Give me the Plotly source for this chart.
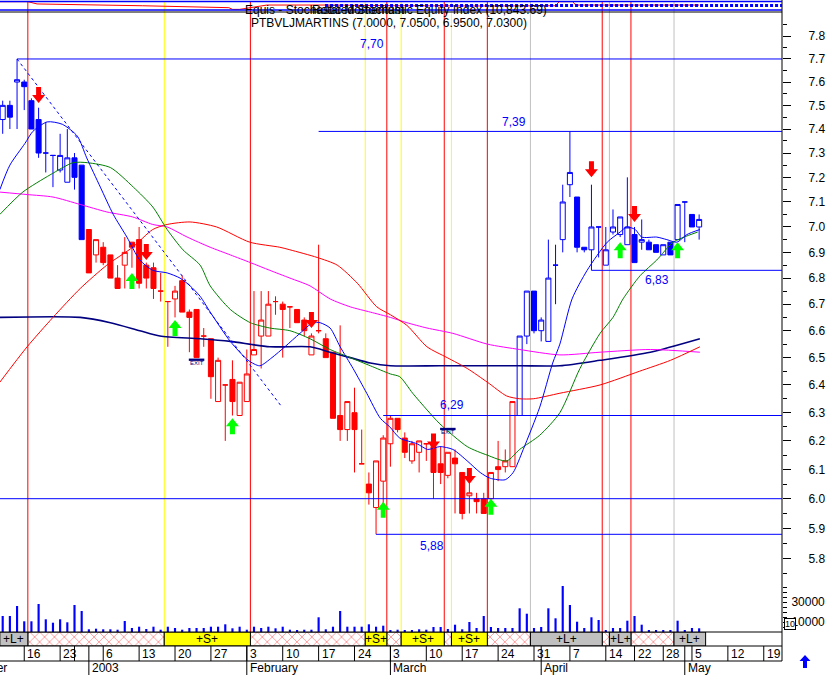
import math
import plotly.graph_objects as go

FONT = "Arial, Liberation Sans, sans-serif"

# ------------------------------------------------------------------ data
# trading-day index: 0 = 11 Dec 2002 ... 97 = 6 May 2003
day_index = list(range(98))
opens = [7.44, 7.50, 7.60, 7.60, 7.52, 7.44, 7.30, 7.29, 7.23, 7.18,
         7.28, 7.25, 6.99, 6.89, 6.92, 6.89, 6.80, 6.85, 6.94, 6.95,
         6.85, 6.84, 6.75, 6.71, 6.72, 6.79, 6.67, 6.68, 6.58, 6.57,
         6.34, 6.40, 6.42, 6.29, 6.34, 6.51, 6.58, 6.58, 6.71, 6.70,
         6.69, 6.68, 6.64, 6.51, 6.60, 6.57, 6.52, 6.29, 6.24, 6.30,
         6.12, 6.05, 5.97, 6.06, 6.19, 6.28, 6.21, 6.13, 6.16, 6.19,
         6.18, 6.12, 6.08, 6.14, 6.09, 6.01, 6.00, 6.00, 6.00, 6.11,
         6.11, 6.11, 6.29, 6.58, 6.75, 6.60, 6.56, 6.85, 6.95, 7.17,
         7.12, 6.92, 6.91, 7.00, 6.85, 6.98, 6.97, 6.93, 6.97, 6.94,
         6.94, 6.93, 6.89, 6.94, 6.95, 7.10, 7.05, 7.00]
highs = [7.52, 7.52, 7.70, 7.61, 7.53, 7.49, 7.43, 7.29, 7.38, 7.40,
         7.30, 7.25, 6.99, 6.95, 6.94, 6.89, 6.85, 6.96, 6.94, 7.00,
         6.86, 6.86, 6.82, 6.71, 6.77, 6.81, 6.68, 6.68, 6.61, 6.57,
         6.50, 6.40, 6.49, 6.41, 6.53, 6.75, 6.75, 6.75, 6.73, 6.71,
         6.69, 6.68, 6.65, 6.59, 6.93, 6.59, 6.52, 6.62, 6.34, 6.39,
         6.24, 6.09, 6.13, 6.22, 6.29, 6.28, 6.23, 6.20, 6.20, 6.19,
         6.19, 6.18, 6.16, 6.17, 6.09, 6.10, 6.02, 6.02, 6.09, 6.20,
         6.17, 6.34, 6.58, 6.75, 6.75, 6.65, 6.95, 6.93, 7.17, 7.39,
         7.12, 6.92, 7.17, 7.00, 7.00, 7.07, 7.04, 7.20, 7.00, 7.03,
         6.95, 6.93, 6.93, 6.94, 7.09, 7.10, 7.05, 7.05]
lows = [7.38, 7.40, 7.40, 7.48, 7.40, 7.28, 7.22, 7.16, 7.22, 7.18,
        7.15, 6.95, 6.82, 6.86, 6.85, 6.80, 6.76, 6.76, 6.84, 6.76,
        6.76, 6.72, 6.71, 6.54, 6.65, 6.67, 6.52, 6.50, 6.54, 6.35,
        6.34, 6.20, 6.29, 6.29, 6.34, 6.51, 6.46, 6.58, 6.66, 6.50,
        6.61, 6.63, 6.58, 6.51, 6.59, 6.50, 6.28, 6.20, 6.20, 6.09,
        6.12, 5.98, 5.88, 5.97, 6.11, 6.23, 6.14, 6.12, 6.09, 6.13,
        6.00, 6.05, 6.07, 5.95, 5.93, 5.95, 5.95, 5.95, 5.97, 6.06,
        6.09, 6.11, 6.29, 6.55, 6.59, 6.56, 6.56, 6.70, 6.90, 7.12,
        6.90, 6.90, 6.83, 6.88, 6.85, 6.97, 6.96, 6.93, 6.86, 6.91,
        6.91, 6.90, 6.89, 6.89, 6.95, 6.94, 7.00, 6.95]
closes = [7.50, 7.45, 7.61, 7.58, 7.40, 7.30, 7.30, 7.29, 7.29, 7.28,
          7.20, 6.95, 6.82, 6.95, 6.86, 6.80, 6.76, 6.90, 6.92, 6.78,
          6.80, 6.76, 6.75, 6.71, 6.75, 6.67, 6.65, 6.50, 6.58, 6.43,
          6.49, 6.40, 6.34, 6.41, 6.44, 6.53, 6.64, 6.70, 6.71, 6.68,
          6.69, 6.63, 6.60, 6.58, 6.60, 6.50, 6.28, 6.24, 6.34, 6.24,
          6.12, 6.02, 6.13, 6.21, 6.28, 6.24, 6.16, 6.19, 6.20, 6.19,
          6.09, 6.09, 6.16, 6.12, 5.95, 6.02, 5.99, 5.95, 6.09, 6.10,
          6.13, 6.34, 6.58, 6.75, 6.60, 6.64, 6.80, 6.85, 7.10, 7.22,
          6.92, 6.91, 7.00, 7.00, 6.91, 7.00, 7.04, 7.00, 6.86, 6.95,
          6.91, 6.90, 6.93, 6.89, 7.09, 7.10, 7.00, 7.03]
volumes = [16000, 16000, 26000, 10700, 10700, 28000, 12700, 9300, 12700, 9700,
           27000, 21000, 2700, 3300, 2700, 2700, 2300, 11000, 4000, 5300,
           3000, 5300, 2300, 5300, 4000, 2300, 4000, 4000, 4000, 5300,
           5300, 7700, 3700, 5300, 2300, 5300, 4000, 5300, 3700, 5300,
           2300, 2000, 2300, 2300, 14700, 2700, 5300, 21000, 5300, 5300,
           5300, 7700, 5300, 6300, 1700, 2300, 2000, 2000, 2700, 2300,
           5000, 5000, 3000, 7300, 2700, 10000, 4000, 16000, 5000, 4000,
           4000, 4000, 23700, 18300, 4000, 5000, 23700, 13700, 46000, 27000,
           10300, 4000, 14700, 12000, 1700, 4000, 4000, 11300, 16000, 7300,
           1700, 1700, 1700, 1500, 11300, 1700, 4000, 3700]
# candle colouring (trend state): first index, last index, colour
trend_segments = [(0, 11, "#0000ff"), (12, 71, "#ff0000"), (72, 97, "#0000ff")]

# moving averages (read at day index positions)
ma_fast_x = [-0.4, 1.0, 3.1, 4.2, 6.2, 8.3, 10.4, 11.7, 13.6, 15.4, 17.3, 19.1, 20.9, 22.9, 24.7,
             26.1, 27.5, 28.9, 31.7, 34.2, 35.8, 37.5, 39.3, 41.4, 43.2, 44.2, 45.6, 47.0, 48.8,
             50.7, 52.6, 53.9, 55.3, 57.7, 59.2, 60.9, 62.7, 64.7, 66.5, 67.9, 70.0, 71.1, 72.5,
             74.8, 76.6, 77.6, 79.3, 81.4, 84.2, 86.0, 86.9, 88.1, 89.0, 91.1, 92.5, 93.9, 95.3, 97.1]
ma_fast = [7.15, 7.25, 7.34, 7.39, 7.43, 7.42, 7.37, 7.28, 7.16, 7.05, 6.96, 6.87, 6.83, 6.82, 6.80,
           6.77, 6.73, 6.67, 6.56, 6.49, 6.47, 6.50, 6.54, 6.59, 6.63, 6.63, 6.61, 6.54, 6.46,
           6.37, 6.28, 6.25, 6.21, 6.19, 6.17, 6.18, 6.17, 6.13, 6.09, 6.07, 6.065, 6.09, 6.17,
           6.32, 6.48, 6.55, 6.72, 6.83, 6.94, 6.98, 7.00, 6.99, 6.96, 6.96, 6.95, 6.94, 6.97, 6.99]
ma_mid_x = [-0.4, 2.8, 6.6, 9.8, 11.8, 15.0, 18.2, 20.9, 22.9, 25.1, 27.5, 28.9, 31.7, 34.5, 37.2,
            40.0, 42.8, 45.6, 48.4, 51.2, 54.0, 55.3, 57.1, 59.1, 60.9, 64.7, 67.5, 70.2, 72.0,
            74.8, 77.6, 80.4, 83.2, 85.0, 86.4, 88.8, 91.1, 93.4, 96.8]
ma_mid = [7.05, 7.14, 7.21, 7.26, 7.26, 7.24, 7.16, 7.08, 6.99, 6.91, 6.85, 6.77, 6.68, 6.63, 6.61,
          6.60, 6.57, 6.53, 6.50, 6.47, 6.44, 6.43, 6.37, 6.31, 6.26, 6.18, 6.15, 6.13, 6.17,
          6.22, 6.30, 6.46, 6.59, 6.65, 6.72, 6.81, 6.87, 6.94, 6.98]
ma_slow_x = [-0.4, 3.4, 7.0, 10.8, 14.5, 18.1, 20.9, 22.9, 26.1, 29.8, 34.4, 38.6, 40.0, 43.8, 46.6,
             49.4, 52.1, 54.0, 56.3, 59.1, 61.9, 64.7, 67.5, 70.2, 72.0, 73.9, 77.6, 83.2, 88.7,
             93.0, 97.1]
ma_slow = [6.41, 6.54, 6.65, 6.76, 6.85, 6.92, 6.99, 7.01, 7.02, 7.00, 6.94, 6.92, 6.91, 6.88, 6.85,
           6.78, 6.69, 6.66, 6.62, 6.54, 6.50, 6.46, 6.41, 6.36, 6.35, 6.35, 6.37, 6.40, 6.45,
           6.49, 6.54]
ma_long_x = [-0.4, 3.4, 7.0, 10.8, 14.5, 18.1, 20.9, 22.9, 25.7, 28.9, 31.7, 34.5, 37.2, 40.0, 42.8,
             45.6, 48.4, 51.2, 54.0, 56.3, 59.1, 62.7, 67.5, 72.0, 77.6, 83.2, 90.2, 97.1]
ma_long = [7.14, 7.13, 7.12, 7.09, 7.06, 7.04, 7.01, 7.00, 6.96, 6.92, 6.89, 6.86, 6.83, 6.80, 6.77,
           6.72, 6.69, 6.67, 6.65, 6.63, 6.61, 6.59, 6.55, 6.53, 6.51, 6.52, 6.53, 6.52]
ma_vlong_x = [-0.4, 10.8, 15.0, 19.1, 21.9, 27.5, 31.7, 37.2, 42.8, 45.6, 48.4, 51.2, 54.0, 60.9,
              66.5, 72.0, 77.6, 83.2, 90.2, 97.1]
ma_vlong = [6.65, 6.65, 6.63, 6.60, 6.58, 6.57, 6.56, 6.54, 6.54, 6.52, 6.50, 6.48, 6.47, 6.47,
            6.47, 6.47, 6.47, 6.49, 6.52, 6.57]

# trend line (from the 7.70 top)
trend_x = [2, 38.9]
trend_y = [7.70, 6.32]

# horizontal support / resistance levels
level_price = [7.70, 7.39, 6.83, 6.29, 6.00, 5.88]
level_from = [2, 44, 82, 53, -0.4, 52]
level_text = ["7,70", "7,39", "6,83", "6,29", "", "5,88"]
level_label_at = [51.5, 71.2, 91.1, 62.6, None, 59.8]

# signal arrows
sell_idx = [5, 20, 43, 60, 65, 82, 88]
sell_price = [7.51, 6.87, 6.61, 6.17, 6.05, 7.20, 7.02]
buy_idx = [18, 24, 32, 53, 68, 86, 94]
buy_price = [6.82, 6.64, 6.28, 5.99, 6.00, 6.94, 6.94]
exit_idx = [27, 62]
exit_price = [6.49, 6.24]

# expert band: start, end, state (L = long, S = short, X = out)
band_start = [-0.4, 3.5, 22.5, 34.5, 50.5, 53.5, 55.5, 61.5, 62.5, 67.5, 73.5, 83.5, 84.5, 87.5, 93.5]
band_end = [3.5, 22.5, 34.5, 50.5, 53.5, 55.5, 61.5, 62.5, 67.5, 73.5, 83.5, 84.5, 87.5, 93.5, 97.9]
band_state = ["L", "X", "S", "X", "S", "X", "S", "X", "S", "X", "L", "X", "L", "X", "L"]

# top indicator strip
ind_x = [-0.4, 3.5, 4.8, 9.0, 19.5, 31.5, 32.0, 33.0, 36.8, 46.0, 55.0, 68.0, 77.0, 77.5, 79.4, 79.8, 97.0]
ind_y = [86, 86, 67, 61, 52, 36, 22, 22, 58, 58, 52, 50, 52, 86, 86, 58, 58]
ind_levels = [88, 17]
ind_signal_level = 54
ind_signal_from = 44.9

# axes labels
price_ticks = [5.8, 5.9, 6.0, 6.1, 6.2, 6.3, 6.4, 6.5, 6.6, 6.7, 6.8, 6.9, 7.0, 7.1, 7.2, 7.3,
               7.4, 7.5, 7.6, 7.7, 7.8]
vol_ticks = [5000, 10000, 15000, 20000, 25000, 30000, 35000, 40000, 45000]
vol_tick_text = ["", "10000", "", "", "", "30000", "", "", ""]
day_tick_idx = [3, 8, 10, 14, 19, 24, 29, 34, 39, 44, 49, 54, 59, 64, 69, 74, 79, 84, 88, 92, 96, 101, 106]
day_tick_text = ["16", "23", "", "6", "13", "20", "27", "3", "10", "17", "24", "3", "10", "17", "24",
                 "31", "7", "14", "22", "28", "5", "12", "19"]
month_idx = [12, 34, 54, 75, 95]
month_text = ["2003", "February", "March", "April", "May"]

# ------------------------------------------------------------------ layout helpers
W, H = 829, 675
ML, MR, MT, MB = 0, 47, 0, 29
PH = H - MT - MB          # 646
PW = W - ML - MR          # 782
X_RANGE = [-0.376, 108.54]
PRICE_RANGE = [math.log10(5.563), math.log10(7.908)]


def py(pix):
    return (PH - pix) / PH


def pxp(pix):
    return pix / PW


BLUE, RED, GREEN, MAG, NAVY = "#0000ff", "#ff0000", "#008000", "#ff00ff", "#000080"
YEL, GRAY = "#ffff00", "#c0c0c0"

fig = go.Figure()

# candles
for start, end, colour in trend_segments:
    sl = slice(start, end + 1)
    fig.add_trace(go.Candlestick(
        x=day_index[sl], open=opens[sl], high=highs[sl], low=lows[sl], close=closes[sl],
        increasing=dict(line=dict(color=colour, width=1), fillcolor="white"),
        decreasing=dict(line=dict(color=colour, width=1), fillcolor=colour),
        whiskerwidth=0, showlegend=False, hoverinfo="skip", xaxis="x", yaxis="y"))

# moving averages
for xs, ys, col, w in [(ma_vlong_x, ma_vlong, NAVY, 1.6), (ma_long_x, ma_long, MAG, 1),
                       (ma_slow_x, ma_slow, RED, 1), (ma_mid_x, ma_mid, GREEN, 1),
                       (ma_fast_x, ma_fast, BLUE, 1)]:
    fig.add_trace(go.Scatter(x=xs, y=ys, mode="lines", line=dict(color=col, width=w, shape="spline", smoothing=0.7),
                             hoverinfo="skip", showlegend=False, xaxis="x", yaxis="y"))

# volume
fig.add_trace(go.Bar(x=day_index, y=volumes, width=0.3, marker=dict(color=BLUE, line=dict(width=0)),
                     hoverinfo="skip", showlegend=False, xaxis="x", yaxis="y2"))

# expert band
for state in ["X", "S", "L"]:
    xs = [(s + e) / 2 for s, e, st in zip(band_start, band_end, band_state) if st == state]
    ws = [e - s for s, e, st in zip(band_start, band_end, band_state) if st == state]
    if state == "X":
        marker = dict(color="white", line=dict(color="black", width=1),
                      pattern=dict(shape="x", fgcolor=RED, bgcolor="white", size=7, solidity=0.2))
    else:
        marker = dict(color=YEL if state == "S" else GRAY, line=dict(color="black", width=1))
    fig.add_trace(go.Bar(x=xs, y=[1] * len(xs), width=ws, base=0, marker=marker,
                         hoverinfo="skip", showlegend=False, xaxis="x", yaxis="y3"))

# top indicator
fig.add_trace(go.Scatter(x=ind_x, y=ind_y, mode="lines", line=dict(color=RED, width=1),
                         hoverinfo="skip", showlegend=False, xaxis="x", yaxis="y4"))

shapes = []
annotations = []


def hline(ypix, colour, width=1, x0=0, x1=1):
    shapes.append(dict(type="line", xref="paper", yref="paper", x0=x0, x1=x1, y0=py(ypix), y1=py(ypix),
                       line=dict(color=colour, width=width)))


# frame
hline(12, "black")
hline(632, "black")
hline(646, "black")
hline(661, "black")
shapes.append(dict(type="line", xref="paper", yref="paper", x0=1, x1=1, y0=py(661), y1=1,
                   line=dict(color="black", width=1)))

# signal vertical lines
sig_col = {"X": RED, "S": YEL, "L": GRAY}
for s, st in zip(band_start[1:], band_state[1:]):
    shapes.append(dict(type="line", xref="x", yref="paper", x0=s, x1=s, y0=py(632), y1=py(2),
                       line=dict(color=sig_col[st], width=1), layer="below"))

# levels
for lp, lf in zip(level_price, level_from):
    shapes.append(dict(type="line", xref="x", yref="y", x0=lf, x1=X_RANGE[1], y0=lp, y1=lp,
                       line=dict(color=BLUE, width=1)))
level_shift = {"7,70": 15, "7,39": 9, "6,83": -10, "6,29": 11, "5,88": -12}
for lp, lt, la in zip(level_price, level_text, level_label_at):
    if la is None:
        continue
    annotations.append(dict(x=la, y=math.log10(lp), xref="x", yref="y", text=lt, showarrow=False,
                            yshift=level_shift[lt], font=dict(color=BLUE, size=12, family=FONT)))

# trend line
shapes.append(dict(type="line", xref="x", yref="y", x0=trend_x[0], x1=trend_x[1], y0=trend_y[0], y1=trend_y[1],
                   line=dict(color=BLUE, width=1, dash="dot")))

# arrows
DOWN = "M 0 0 L 6.5 8 L 2.5 8 L 2.5 16 L -2.5 16 L -2.5 8 L -6.5 8 Z"
UP = "M 0 0 L 6.5 -8 L 2.5 -8 L 2.5 -16 L -2.5 -16 L -2.5 -8 L -6.5 -8 Z"
for i, p in zip(sell_idx, sell_price):
    shapes.append(dict(type="path", xref="x", yref="y", xsizemode="pixel", ysizemode="pixel",
                       xanchor=i, yanchor=p, path=DOWN, fillcolor=RED, line=dict(width=0)))
for i, p in zip(buy_idx, buy_price):
    shapes.append(dict(type="path", xref="x", yref="y", xsizemode="pixel", ysizemode="pixel",
                       xanchor=i, yanchor=p, path=UP, fillcolor="#00ff00", line=dict(width=0)))
for i, p in zip(exit_idx, exit_price):
    shapes.append(dict(type="rect", xref="x", yref="y", xsizemode="pixel", ysizemode="pixel",
                       xanchor=i, yanchor=p, x0=-7, x1=7, y0=1, y1=-6, fillcolor="white",
                       line=dict(color=NAVY, width=1.5)))
    shapes.append(dict(type="line", xref="x", yref="y", xsizemode="pixel", ysizemode="pixel",
                       xanchor=i, yanchor=p, x0=0, x1=0, y0=-6, y1=-16, line=dict(color=NAVY, width=2)))
    annotations.append(dict(x=i, y=math.log10(p), xref="x", yref="y", text="EXIT", showarrow=False,
                            yshift=-2.5, font=dict(color=NAVY, size=6, family=FONT)))

# top strip lines
for lv in ind_levels:
    shapes.append(dict(type="line", xref="paper", yref="y4", x0=0, x1=1, y0=lv, y1=lv,
                       line=dict(color=BLUE, width=1.5)))
shapes.append(dict(type="line", xref="x", yref="y4", x0=ind_signal_from, x1=X_RANGE[1],
                   y0=ind_signal_level, y1=ind_signal_level, line=dict(color=BLUE, width=3, dash="3px,2px")))

# band labels
for s, e, st in zip(band_start, band_end, band_state):
    if st in ("S", "L"):
        annotations.append(dict(x=(s + e) / 2, y=py(639), xref="x", yref="paper", text="+%s+" % st,
                                showarrow=False, yanchor="middle", font=dict(size=12, family=FONT, color="black")))

# date rows
for i, t in zip(day_tick_idx, day_tick_text):
    shapes.append(dict(type="line", xref="x", yref="paper", x0=i, x1=i, y0=py(646), y1=py(661),
                       line=dict(color="black", width=1)))
    if t:
        annotations.append(dict(x=i, y=py(654), xref="x", yref="paper", text=t, showarrow=False,
                                xanchor="left", yanchor="middle", xshift=1,
                                font=dict(size=12, family=FONT, color="black")))
for i, t in zip(month_idx, month_text):
    shapes.append(dict(type="line", xref="x", yref="paper", x0=i, x1=i, y0=py(646), y1=py(675),
                       line=dict(color="black", width=1)))
    annotations.append(dict(x=i, y=py(668), xref="x", yref="paper", text=t, showarrow=False,
                            xanchor="left", yanchor="middle", xshift=1,
                            font=dict(size=12, family=FONT, color="black")))
annotations.append(dict(x=0, y=py(668), xref="paper", yref="paper", text="December", showarrow=False,
                        xanchor="right", yanchor="middle", xshift=9, font=dict(size=12, family=FONT)))

# titles
annotations.append(dict(x=pxp(243), y=py(10), xref="paper", yref="paper", text="Equis - Stochastic Momentum",
                        showarrow=False, xanchor="left", yanchor="middle", font=dict(size=12, family=FONT)))
annotations.append(dict(x=pxp(310), y=py(10), xref="paper", yref="paper",
                        text="Rotated Stochastic Equity Index (10,843.69)",
                        showarrow=False, xanchor="left", yanchor="middle", font=dict(size=12, family=FONT)))
annotations.append(dict(x=pxp(249), y=py(23), xref="paper", yref="paper",
                        text="PTBVLJMARTINS (7.0000, 7.0500, 6.9500, 7.0300)",
                        showarrow=False, xanchor="left", yanchor="middle", font=dict(size=12, family=FONT)))

# small marker box near volume scale and scroll arrow
annotations.append(dict(x=1, y=py(624), xref="paper", yref="paper", text="10", showarrow=False,
                        xanchor="left", yanchor="middle", xshift=2, bgcolor="white", bordercolor="black",
                        borderwidth=1, borderpad=0, font=dict(size=9, family=FONT)))
shapes.append(dict(type="path", xref="paper", yref="paper", xsizemode="pixel", ysizemode="pixel",
                   xanchor=1, yanchor=py(655),
                   path="M 23 0 L 28.5 -6 L 25 -6 L 25 -13 L 21 -13 L 21 -6 L 17.5 -6 Z",
                   fillcolor=BLUE, line=dict(width=0)))

fig.update_layout(
    width=W, height=H, margin=dict(l=ML, r=MR, t=MT, b=MB, pad=0),
    paper_bgcolor="white", plot_bgcolor="white", showlegend=False,
    barmode="overlay", boxgap=0, boxgroupgap=0.3,
    font=dict(family=FONT, size=12, color="black"),
    xaxis=dict(domain=[0, 1], range=X_RANGE, showticklabels=False, ticks="", showgrid=False,
               zeroline=False, showline=False, rangeslider=dict(visible=False), anchor="y3"),
    yaxis=dict(domain=[py(632), py(12)], type="log", range=PRICE_RANGE, side="right", anchor="x",
               showgrid=False, zeroline=False, showline=False, ticks="outside", ticklen=8,
               tickcolor="black", tickvals=price_ticks, ticktext=["%.1f" % v for v in price_ticks],
               ticklabelstandoff=15, tickfont=dict(size=12, family=FONT),
               minor=dict(tickvals=[5.75] + [round(v + 0.05, 2) for v in price_ticks], ticks="outside",
                          ticklen=4, tickcolor="black", showgrid=False)),
    yaxis2=dict(overlaying="y", side="right", anchor="x", range=[0, 620000], showgrid=False,
                zeroline=False, showline=False, ticks="outside", ticklen=4, tickcolor="black",
                tickvals=vol_ticks, ticktext=vol_tick_text, ticklabelstandoff=2,
                tickfont=dict(size=12, family=FONT)),
    yaxis3=dict(domain=[0, py(632)], range=[0, 1], visible=False, anchor="x"),
    yaxis4=dict(domain=[py(12), 1], range=[0, 100], visible=False, anchor="x"),
    shapes=shapes, annotations=annotations,
)

fig.write_html("out.html", config={"displayModeBar": False},
               post_script="document.body.style.margin='0px';document.body.style.overflow='hidden';")
